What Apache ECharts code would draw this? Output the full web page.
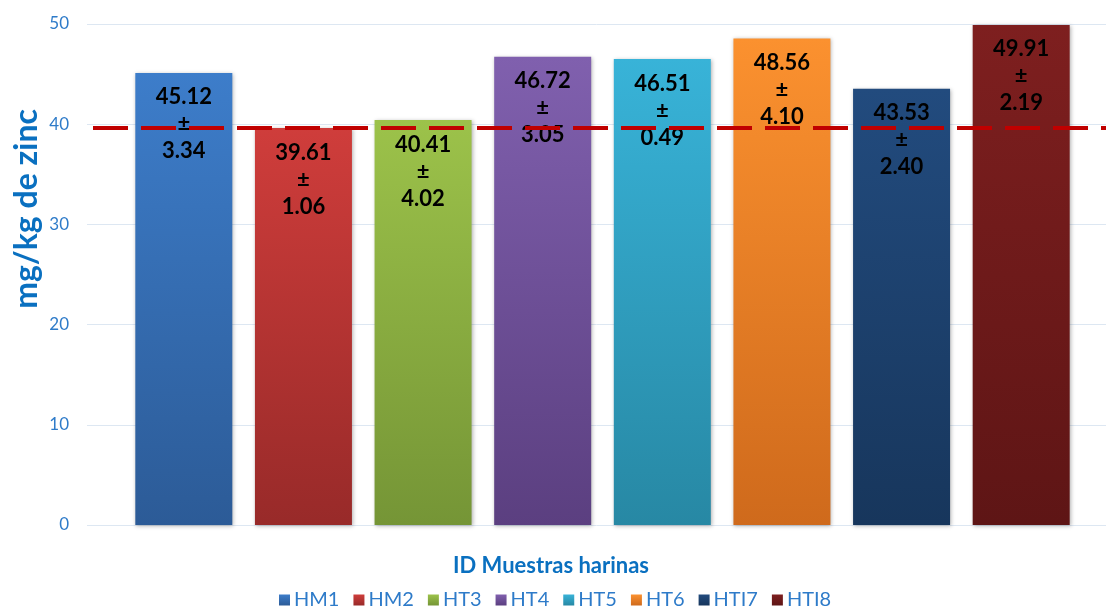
<!DOCTYPE html>
<html>
<head>
<meta charset="utf-8">
<script src="https://cdn.jsdelivr.net/npm/echarts@6/dist/echarts.min.js"></script>
<style>
  html, body { margin: 0; padding: 0; background: #fff; }
  #chart { width: 1106px; height: 609px; }
</style>
</head>
<body>
<div id="chart"></div>
<script>
// Zinc content per flour sample (mg/kg), mean ± standard deviation
const categories = ['HM1', 'HM2', 'HT3', 'HT4', 'HT5', 'HT6', 'HTI7', 'HTI8'];
const means = [45.12, 39.61, 40.41, 46.72, 46.51, 48.56, 43.53, 49.91];
const deviations = ['3.34', '1.06', '4.02', '3.05', '0.49', '4.10', '2.40', '2.19'];
const referenceLevel = [39.65];
const yTicks = [0, 10, 20, 30, 40, 50];

// top / bottom shades of each bar
const topColors = ['#3d7dca', '#cf3d3b', '#9cc24a', '#8060ae', '#38b3d8', '#fb912f', '#224b7e', '#7e1f1f'];
const bottomColors = ['#2c5b97', '#982a29', '#759536', '#5b3f80', '#2788a4', '#cf6a1c', '#17365c', '#5e1515'];

const BLUE = '#2e7bc9';
const FONT = 'Lato, "Open Sans", sans-serif';

function gradient(i) {
  return new echarts.graphic.LinearGradient(0, 0, 0, 1, [
    { offset: 0, color: topColors[i] },
    { offset: 1, color: bottomColors[i] }
  ]);
}

const barSeries = categories.map((name, i) => ({
  name: name,
  type: 'bar',
  stack: 'samples',
  xAxisIndex: 0,
  yAxisIndex: 0,
  barWidth: 97,
  data: categories.map((_, j) => (j === i ? means[i] : '-')),
  itemStyle: {
    color: gradient(i),
    shadowBlur: 4,
    shadowColor: 'rgba(0,0,0,0.3)',
    shadowOffsetX: 1,
    shadowOffsetY: 1
  },
  label: {
    show: true,
    position: 'insideTop',
    distance: 11,
    formatter: p => p.value.toFixed(2) + '\n±\n' + deviations[i],
    fontFamily: FONT,
    fontWeight: 'bold',
    fontSize: 22,
    lineHeight: 27,
    color: '#000'
  },
  z: 3
}));

const chart = echarts.init(document.getElementById('chart'), null, { renderer: 'canvas' });

chart.setOption({
  animation: false,
  backgroundColor: '#fff',
  grid: [
    { left: 124, right: 25, top: 24, bottom: 84 },
    { left: 87, right: 0, top: 24, bottom: 84 }
  ],
  xAxis: [
    {
      type: 'category',
      gridIndex: 0,
      data: categories,
      axisLine: { show: false },
      axisTick: { show: false },
      axisLabel: { show: false }
    },
    {
      type: 'value',
      gridIndex: 1,
      min: 0,
      max: 1,
      show: false
    }
  ],
  yAxis: [
    {
      type: 'value',
      gridIndex: 0,
      min: yTicks[0],
      max: yTicks[yTicks.length - 1],
      interval: 10,
      show: false
    },
    {
      type: 'value',
      gridIndex: 1,
      min: yTicks[0],
      max: yTicks[yTicks.length - 1],
      interval: 10,
      axisLine: { show: false },
      axisTick: { show: false },
      axisLabel: {
        margin: 18,
        color: BLUE,
        fontFamily: FONT,
        fontSize: 17
      },
      splitLine: { lineStyle: { color: '#dde7f2', width: 1 } }
    }
  ],
  legend: {
    data: categories,
    left: 279,
    top: 590,
    padding: 0,
    itemWidth: 11,
    itemHeight: 11,
    itemGap: 14,
    icon: 'rect',
    textStyle: { color: BLUE, fontFamily: FONT, fontSize: 20, padding: [0, 0, 0, -1] }
  },
  graphic: [
    {
      type: 'text',
      x: 27,
      y: 209,
      rotation: Math.PI / 2,
      style: {
        text: 'mg/kg de zinc',
        fill: '#0a70c0',
        font: 'bold 32px ' + FONT,
        textAlign: 'center',
        textVerticalAlign: 'middle'
      }
    },
    {
      type: 'text',
      x: 551,
      y: 566,
      style: {
        text: 'ID Muestras harinas',
        fill: '#0a70c0',
        font: 'bold 22px ' + FONT,
        textAlign: 'center',
        textVerticalAlign: 'middle'
      }
    }
  ],
  series: barSeries.concat([
    {
      name: 'referencia',
      type: 'line',
      xAxisIndex: 1,
      yAxisIndex: 1,
      data: [],
      silent: true,
      z: 10,
      markLine: {
        silent: true,
        symbol: ['none', 'none'],
        label: { show: false },
        lineStyle: { color: '#c00000', width: 4, type: [35, 13], dashOffset: 42 },
        data: referenceLevel.map(v => ({ yAxis: v }))
      }
    }
  ])
});
</script>
</body>
</html>
